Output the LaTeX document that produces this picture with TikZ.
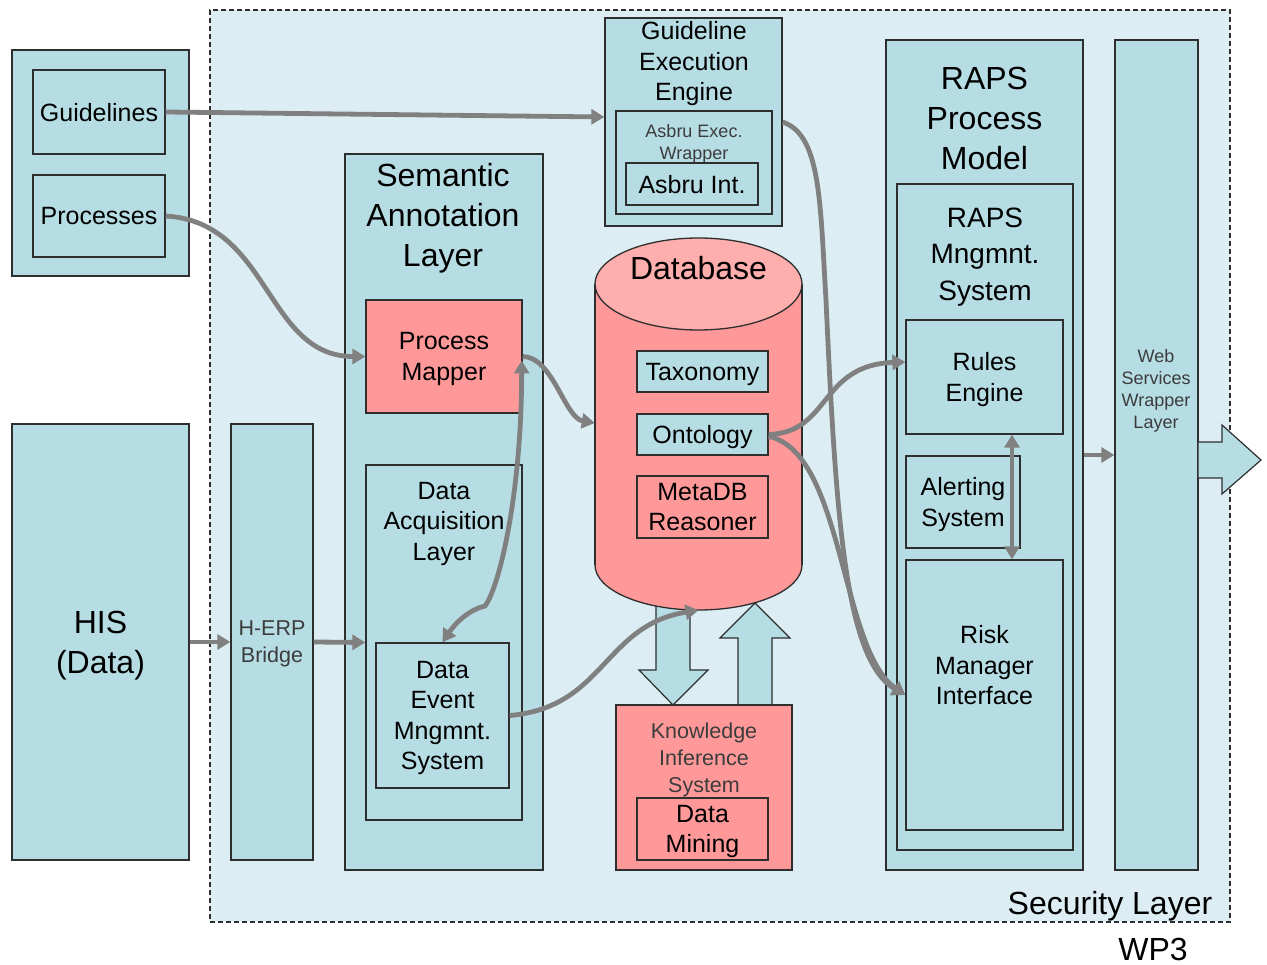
\documentclass[tikz,border=0pt]{standalone}
\usepackage{fontspec}
\setmainfont{Liberation Sans}
\usetikzlibrary{arrows.meta}
\definecolor{boxfill}{HTML}{B7DDE4}
\definecolor{secfill}{HTML}{DCEEF3}
\definecolor{pinkfill}{HTML}{FF9999}
\definecolor{pinktop}{HTML}{FFAEAE}
\definecolor{edgecol}{HTML}{2E2E2E}
\definecolor{conncol}{HTML}{808080}
\definecolor{lighttext}{HTML}{3C3C3C}
\newcommand\fsBig{\fontsize{32}{40}\selectfont}
\newcommand\fsMid{\fontsize{25}{30.5}\selectfont}
\newcommand\fsMng{\fontsize{28}{36.5}\selectfont}
\newcommand\fsLight{\fontsize{21.5}{27}\selectfont}
\newcommand\fsSmall{\fontsize{18}{22}\selectfont}
\begin{document}
\begin{tikzpicture}[x=1pt,y=-1pt,
  box/.style={draw=edgecol, line width=1.3pt, fill=boxfill, rectangle, inner sep=0pt, align=center, font=\fsMid, text=black, text depth=0pt},
  pinkbox/.style={box, fill=pinkfill},
  txt/.style={inner sep=0pt, align=center, text=black, text depth=0pt},
  lighttxt/.style={inner sep=0pt, align=center, text=lighttext, text depth=0pt},
  conn/.style={draw=conncol, line width=4.8pt, -{Triangle[length=13pt,width=15pt]}},
  conntwo/.style={draw=conncol, line width=4.8pt, {Triangle[length=13pt,width=15pt]}-{Triangle[length=13pt,width=15pt]}},
  blockarrow/.style={draw=edgecol, line width=1.2pt, fill=boxfill, line join=miter}]
\useasboundingbox (0,0) rectangle (1267,965);
\fill[white] (0,0) rectangle (1267,965);

% security layer
\node[draw=edgecol, line width=1.2pt, dash pattern=on 5pt off 3pt, fill=secfill,
      minimum width=1020pt, minimum height=912pt, inner sep=0pt] (sec) at (720,466) {};
\node[txt, font=\fsBig] (seclabel) at (1110,903) {Security Layer};
\node[txt, font=\fsBig] (wp) at (1153,949) {WP3};

% sources
\node[box, minimum width=177pt, minimum height=226pt] (src) at (100.5,163) {};
\node[box, minimum width=132pt, minimum height=84pt] (guide) at (99,112) {Guidelines};
\node[box, minimum width=132pt, minimum height=82pt] (proc) at (99,216) {Processes};
\node[box, minimum width=177pt, minimum height=436pt, font=\fsBig] (his) at (100.5,642) {HIS\\(Data)};
\node[box, minimum width=82pt, minimum height=436pt, font=\fsLight, text=lighttext] (herp) at (272,642) {H-ERP\\Bridge};

% semantic annotation layer
\node[box, minimum width=198pt, minimum height=716pt] (sal) at (444,512) {};
\node[txt, font=\fsBig] (saltitle) at (443,215) {Semantic\\Annotation\\Layer};
\node[pinkbox, minimum width=156pt, minimum height=113pt] (pm) at (444,356.5) {Process\\Mapper};
\node[box, minimum width=156pt, minimum height=355pt] (dal) at (444,642.5) {};
\node[txt, font=\fsMid] (daltitle) at (444,521) {Data\\Acquisition\\Layer};
\node[box, minimum width=133pt, minimum height=145pt] (dem) at (442.5,715.5) {Data\\Event\\Mngmnt.\\System};

% guideline execution engine
\node[box, minimum width=177pt, minimum height=208pt] (gee) at (693.5,122) {};
\node[txt, font=\fsMid] (geetitle) at (694,61) {Guideline\\Execution\\Engine};
\node[box, minimum width=156pt, minimum height=103pt] (aew) at (694,162.5) {};
\node[lighttxt, font=\fsSmall] (aewtitle) at (694,142) {Asbru Exec.\\Wrapper};
\node[box, minimum width=132pt, minimum height=42pt] (ai) at (692,184) {Asbru Int.};

% exchange arrows between database and knowledge inference
\draw[blockarrow] (656,595) -- (656,670) -- (639,670) -- (673,705) -- (708,670) -- (690,670) -- (690,595) -- cycle;
\draw[blockarrow] (738,705) -- (738,638) -- (720,638) -- (755,603) -- (790,638) -- (772,638) -- (772,705) -- cycle;

% database cylinder
\node[inner sep=0pt, minimum width=207pt, minimum height=372pt] (db) at (698.5,424) {};
\path[fill=pinkfill, draw=edgecol, line width=1.3pt] (698.5,565) ellipse [x radius=103.5, y radius=45];
\fill[pinkfill] (595,284) rectangle (802,565);
\draw[edgecol, line width=1.3pt] (595,284) -- (595,565) (802,284) -- (802,565);
\path[fill=pinktop, draw=edgecol, line width=1.3pt] (698.5,284) ellipse [x radius=103.5, y radius=46];
\node[txt, font=\fsBig] (dbtitle) at (698.5,268) {Database};
\node[box, minimum width=131pt, minimum height=41pt] (tax) at (702.5,371.5) {Taxonomy};
\node[box, minimum width=131pt, minimum height=41pt] (ont) at (702.5,434.5) {Ontology};
\node[pinkbox, minimum width=131pt, minimum height=62pt] (mdb) at (702.5,507) {MetaDB\\Reasoner};

% knowledge inference system
\node[pinkbox, minimum width=176pt, minimum height=165pt] (kis) at (704,787.5) {};
\node[lighttxt, font=\fsLight] (kistitle) at (704,758) {Knowledge\\Inference\\System};
\node[pinkbox, minimum width=131pt, minimum height=62pt] (dm) at (702.5,829) {Data\\Mining};

% RAPS process model
\node[box, minimum width=197pt, minimum height=830pt] (rpm) at (984.5,455) {};
\node[txt, font=\fsBig] (rpmtitle) at (984.5,118) {RAPS\\Process\\Model};
\node[box, minimum width=176pt, minimum height=666pt] (rms) at (985,517) {};
\node[txt, font=\fsMng] (rmstitle) at (985,254) {RAPS\\Mngmnt.\\System};
\node[box, minimum width=157pt, minimum height=114pt] (rules) at (984.5,377) {Rules\\Engine};
\node[box, minimum width=114pt, minimum height=92pt] (alert) at (963,502) {Alerting\\System};
\node[box, minimum width=157pt, minimum height=270pt] (risk) at (984.5,695) {};
\node[txt, font=\fsMid] (risktitle) at (984.5,665) {Risk\\Manager\\Interface};

% web services wrapper
\node[box, minimum width=83pt, minimum height=830pt] (ws) at (1156.5,455) {};
\node[lighttxt, font=\fsSmall] (wstitle) at (1156,389) {Web\\Services\\Wrapper\\Layer};
\draw[blockarrow] (ws.east |- 0,442) -- (1222,442) -- (1222,425) -- (1261,460) -- (1222,494) -- (1222,478) -- (ws.east |- 0,478);

% connectors
\draw[conn] (guide.east) -- ([yshift=5pt]gee.west);
\draw[conn] (proc.east) .. controls +(105,6) and +(-100,0) .. (pm.west);
\coordinate (pmR) at ([xshift=-1pt,yshift=-4pt]pm.east);
\coordinate (bend) at (485,606);
\draw[conntwo] (pmR) .. controls +(0,130) and +(15,-20) .. (bend) .. controls +(-20,5) and +(10,-15) .. (dem.north);
\draw[conn] (pm.east) .. controls +(30,0) and +(-30,-5) .. ([yshift=1pt]db.west);
\draw[conn] (dem.east) .. controls +(95,-8) and +(-95,15) .. (db.south);
\draw[conn] (ont.east) .. controls +(62,-2) and +(-86,3) .. ([yshift=15pt]rules.west);
\draw[conn] ([yshift=-2pt]ont.east) .. controls +(75,15) and +(-65,-45) .. (risk.west);
\coordinate (geeDown) at (826,300);
\draw[conn] (gee.east) .. controls +(38,13) and +(-6,-100) .. (geeDown) .. controls +(10,220) and +(-60,-35) .. (risk.west);
\draw[conntwo] ([xshift=27.5pt]rules.south) -- ([xshift=27.5pt]risk.north);
\draw[conn] (his.east) -- (herp.west);
\draw[conn] (herp.east) -- (dal.west);
\draw[conn] (rpm.east) -- (ws.west);
\end{tikzpicture}
\end{document}
